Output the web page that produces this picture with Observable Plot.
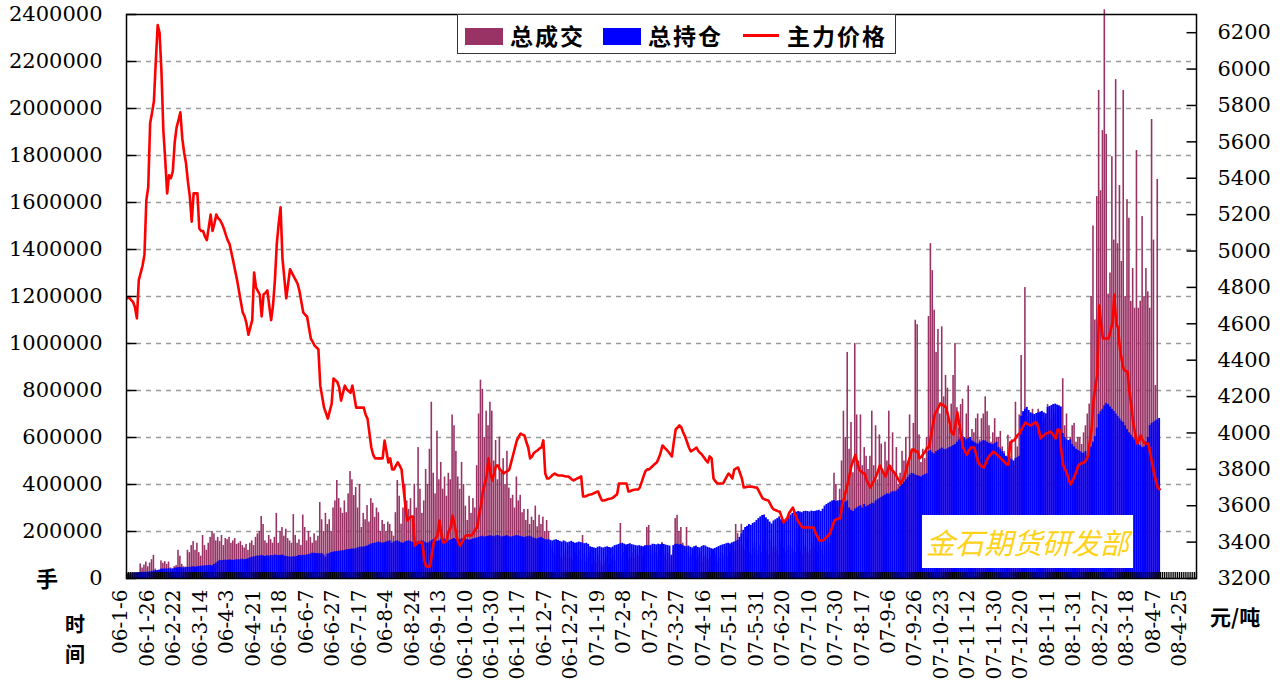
<!DOCTYPE html>
<html><head><meta charset="utf-8">
<script src="https://cdn.jsdelivr.net/npm/d3@7"></script>
<script src="https://cdn.jsdelivr.net/npm/@observablehq/plot@0.6"></script>
<style>
body{margin:0;background:#fff;}
#wrap{position:relative;width:1281px;height:687px;overflow:hidden;background:#fff;}
.cj{position:absolute;font-family:"Noto Sans CJK SC";color:#000;white-space:nowrap;line-height:1;}
#legend{position:absolute;left:457px;top:14px;width:437px;height:38px;border:1.5px solid #333;background:#fff;}
#legend .sw{position:absolute;top:13px;width:38px;height:17px;}
#legend .tx{position:absolute;top:0;line-height:40px;font-size:23px;font-weight:700;letter-spacing:2px;font-family:"Noto Sans CJK SC";}
#wm{position:absolute;left:922px;top:515px;width:211px;height:53px;background:#fff;text-align:center;line-height:53px;
 font-family:"Noto Sans CJK SC";font-size:29px;font-style:italic;color:#ffd21a;}
</style></head><body><div id="wrap"></div>
<script>
// ---- tick labels / categories ----
const xLabels = ["06-1-6","06-1-26","06-2-22","06-3-14","06-4-3","06-4-21","06-5-18","06-6-7","06-6-27","06-7-17","06-8-4","06-8-24","06-9-13","06-10-10","06-10-30","06-11-17","06-12-7","06-12-27","07-1-19","07-2-8","07-3-7","07-3-27","07-4-16","07-5-11","07-5-31","07-6-20","07-7-10","07-7-30","07-8-17","07-9-6","07-9-26","07-10-23","07-11-12","07-11-30","07-12-20","08-1-11","08-1-31","08-2-27","08-3-18","08-4-7","08-4-25"];
const labelStep = 14;      // trading days between labels
const slotCount = 566;     // category slots on the x axis
const leftTicks = [0,200000,400000,600000,800000,1000000,1200000,1400000,1600000,1800000,2000000,2200000,2400000];
const rightTicks = [3200,3400,3600,3800,4000,4200,4400,4600,4800,5000,5200,5400,5600,5800,6000,6200];
const rightDomain = [3200, 6300];

// ---- series: 总成交 (daily volume) ----
const volume = [
15000,18000,12000,20000,16000,14000,18000,62000,45000,57000,70000,50000,66000,80000,
98000,40000,30000,28000,75000,65000,72000,60000,70000,45000,35000,50000,55000,120000,
95000,60000,50000,48000,120000,110000,140000,157000,120000,150000,110000,95000,183000,140000,
120000,150000,175000,200000,190000,160000,175000,157000,183000,140000,170000,165000,175000,150000,
160000,170000,145000,150000,157000,140000,130000,145000,120000,150000,160000,140000,175000,190000,
200000,264000,230000,160000,150000,183000,165000,150000,175000,277000,150000,200000,217000,180000,
210000,170000,160000,150000,272000,183000,150000,165000,140000,270000,217000,160000,200000,175000,
150000,190000,160000,180000,323000,250000,200000,277000,230000,250000,200000,300000,330000,417000,
340000,300000,277000,330000,280000,360000,455000,420000,353000,387000,300000,400000,217000,277000,
250000,310000,240000,340000,320000,260000,300000,280000,200000,247000,230000,200000,240000,230000,
200000,180000,280000,417000,350000,231000,300000,401000,330000,294000,340000,250000,401000,300000,
557000,380000,277000,330000,464000,400000,550000,750000,448000,360000,627000,420000,494000,380000,
432000,350000,448000,420000,696000,650000,541000,432000,380000,494000,400000,308000,247000,350000,
277000,340000,300000,480000,700000,844000,805000,600000,712000,650000,750000,712000,500000,587000,
420000,602000,450000,510000,400000,541000,385000,340000,354000,300000,432000,330000,354000,280000,
294000,247000,294000,230000,261000,247000,308000,220000,269000,230000,261000,200000,247000,199000,
150000,130000,110000,100000,140000,90000,80000,100000,120000,85000,140000,90000,75000,110000,
95000,120000,80000,183000,100000,70000,90000,110000,60000,80000,65000,100000,75000,60000,
55000,70000,90000,60000,80000,100000,75000,120000,140000,234000,90000,110000,130000,80000,
90000,110000,85000,120000,100000,95000,130000,100000,140000,217000,226000,120000,100000,130000,
110000,90000,120000,153000,100000,80000,110000,90000,70000,120000,255000,269000,200000,217000,
150000,130000,217000,110000,90000,100000,120000,80000,95000,110000,70000,90000,100000,85000,
80000,95000,120000,100000,70000,90000,110000,80000,100000,130000,90000,110000,140000,120000,
230000,191000,160000,231000,140000,120000,170000,110000,100000,130000,150000,120000,100000,140000,
110000,150000,120000,100000,160000,130000,110000,140000,120000,100000,150000,130000,110000,120000,
140000,100000,130000,120000,110000,150000,120000,100000,140000,130000,110000,100000,120000,150000,
130000,110000,140000,120000,100000,160000,130000,200000,150000,180000,448000,400000,300000,380000,
500000,712000,600000,962000,550000,664000,450000,1000000,696000,500000,696000,480000,557000,520000,
464000,520000,712000,480000,650000,420000,611000,572000,450000,580000,500000,712000,480000,620000,
450000,557000,400000,448000,541000,500000,600000,480000,696000,540000,660000,1099000,1080000,611000,
494000,550000,510000,600000,1115000,1425000,1310000,1142000,962000,1060000,700000,1071000,773000,864000,
810000,650000,742000,864000,1000000,727000,640000,740000,763000,600000,700000,819000,580000,634000,
620000,680000,700000,590000,680000,700000,773000,710000,650000,580000,620000,680000,600000,600000,
626000,560000,540000,500000,610000,520000,590000,480000,750000,560000,696000,949000,700000,1238000,
690000,650000,700000,720000,690000,650000,720000,700000,660000,680000,700000,740000,720000,680000,
740000,700000,640000,600000,620000,850000,650000,700000,560000,600000,650000,660000,580000,600000,
600000,570000,620000,650000,700000,742000,1200000,1500000,1100000,1625000,2077000,1650000,1906000,2420000,
1890000,1210000,1300000,1795000,1440000,2123000,1425000,1672000,1349000,2077000,1200000,1612000,1533000,1179000,
1319000,1150000,1821000,1150000,1180000,1540000,1200000,1319000,1220000,1150000,1953000,1440000,821000,1698000,
660000
];

// ---- series: 总持仓 (open interest) ----
const openInterest = [
22000,22000,23000,23000,24000,24000,25000,25000,26000,26000,27000,27000,28000,30000,
32000,34000,34000,36000,40000,40000,41000,40000,42000,40000,41000,43000,45000,46000,
47000,46000,45000,46000,48000,47000,49000,50000,48000,50000,51000,52000,53000,54000,
54000,55000,56000,54000,60000,65000,72000,77000,76000,77000,78000,77000,79000,78000,
77000,78000,80000,79000,80000,82000,80000,81000,84000,88000,90000,92000,94000,96000,
95000,98000,96000,94000,97000,95000,98000,96000,100000,99000,97000,98000,100000,96000,
94000,92000,92000,90000,93000,92000,94000,98000,97000,99000,98000,100000,102000,104000,
108000,107000,106000,106000,105000,106000,100000,91000,104000,106000,110000,112000,114000,115000,
116000,117000,118000,119000,122000,123000,124000,126000,125000,127000,130000,133000,133000,134000,
135000,138000,142000,146000,149000,150000,152000,155000,153000,150000,152000,155000,158000,160000,
150000,155000,158000,160000,156000,152000,150000,155000,158000,160000,157000,153000,150000,152000,
155000,158000,160000,156000,152000,150000,155000,160000,165000,162000,158000,160000,165000,168000,
165000,162000,160000,163000,167000,170000,166000,162000,165000,168000,170000,168000,165000,163000,
165000,168000,170000,172000,175000,178000,180000,176000,178000,180000,182000,180000,178000,181000,
183000,180000,177000,178000,180000,182000,178000,176000,178000,180000,183000,181000,179000,177000,
175000,177000,178000,180000,176000,172000,170000,168000,172000,175000,170000,166000,164000,165000,
162000,160000,163000,165000,162000,158000,155000,160000,156000,152000,155000,158000,154000,150000,
152000,155000,153000,150000,148000,150000,145000,135000,132000,130000,128000,133000,135000,131000,
130000,133000,135000,132000,130000,134000,140000,142000,145000,148000,150000,146000,143000,145000,
148000,144000,142000,140000,138000,140000,137000,135000,138000,140000,139000,141000,146000,145000,
143000,146000,144000,147000,145000,142000,140000,138000,99000,140000,145000,146000,143000,145000,
140000,137000,135000,138000,133000,130000,135000,138000,132000,130000,136000,140000,138000,133000,
130000,127000,125000,128000,132000,136000,140000,143000,145000,148000,150000,147000,152000,155000,
158000,162000,175000,190000,205000,217000,222000,230000,226000,234000,238000,247000,255000,262000,
268000,270000,258000,250000,240000,232000,245000,250000,255000,262000,250000,240000,245000,255000,
262000,270000,277000,280000,282000,285000,283000,280000,285000,286000,285000,283000,287000,285000,
286000,288000,290000,285000,295000,308000,315000,320000,325000,330000,332000,328000,330000,332000,
330000,328000,325000,330000,300000,290000,285000,295000,300000,305000,310000,300000,315000,305000,
310000,315000,320000,318000,330000,335000,340000,345000,350000,355000,360000,358000,365000,370000,
368000,372000,380000,390000,400000,410000,420000,430000,440000,447000,445000,440000,438000,435000,
432000,438000,442000,445000,540000,545000,535000,530000,540000,545000,550000,555000,550000,548000,
552000,557000,560000,565000,570000,580000,590000,600000,604000,598000,590000,595000,600000,585000,
580000,575000,570000,578000,582000,587000,585000,580000,575000,572000,570000,575000,580000,557000,
550000,540000,530000,520000,515000,510000,505000,500000,510000,515000,520000,690000,710000,720000,
728000,715000,705000,700000,698000,702000,705000,708000,711000,705000,700000,728000,732000,736000,
740000,742000,738000,735000,730000,617000,600000,590000,587000,590000,570000,560000,550000,545000,
540000,535000,532000,540000,523000,540000,560000,580000,604000,640000,698000,710000,720000,735000,
745000,740000,730000,720000,711000,700000,690000,680000,670000,664000,650000,634000,620000,610000,
600000,590000,580000,570000,565000,557000,560000,580000,600000,651000,660000,665000,670000,675000,
681000
];

// ---- series: 主力价格 (main contract price, 元/吨) ----
const price = [
4740,4745,4730,4720,4690,4630,4840,4880,4920,4980,5280,5352,5702,5760,
5823,6043,6242,6200,5982,5661,5500,5317,5416,5400,5440,5597,5680,5719,
5762,5620,5540,5481,5380,5299,5161,5317,5317,5317,5124,5110,5110,5080,
5060,5130,5200,5110,5150,5200,5180,5170,5150,5124,5090,5060,5039,4990,
4943,4890,4840,4780,4720,4662,4640,4600,4540,4580,4620,4882,4800,4780,
4761,4640,4761,4770,4783,4700,4620,4700,4840,5039,5150,5240,4960,4850,
4740,4820,4900,4880,4860,4840,4820,4780,4720,4662,4650,4640,4580,4519,
4500,4480,4470,4460,4260,4200,4139,4110,4079,4120,4159,4299,4290,4280,
4250,4178,4220,4260,4240,4230,4220,4260,4200,4139,4139,4139,4139,4139,
4100,4079,3999,3920,3879,3860,3860,3860,3860,3860,3958,3900,3838,3860,
3800,3799,3820,3838,3820,3799,3700,3600,3519,3530,3540,3540,3381,3390,
3400,3398,3398,3300,3266,3266,3266,3330,3398,3420,3437,3519,3450,3400,
3398,3420,3460,3480,3546,3500,3437,3400,3381,3400,3420,3437,3437,3437,
3437,3450,3470,3480,3550,3600,3678,3720,3760,3860,3780,3739,3780,3821,
3821,3800,3790,3777,3785,3790,3799,3840,3879,3920,3959,3980,3997,3990,
3986,3950,3920,3860,3870,3890,3898,3905,3915,3920,3959,3777,3750,3750,
3760,3770,3777,3770,3766,3766,3766,3763,3761,3761,3755,3745,3739,3745,
3750,3755,3761,3651,3651,3655,3660,3662,3665,3670,3675,3678,3650,3629,
3629,3632,3635,3638,3640,3645,3655,3662,3722,3722,3722,3722,3722,3678,
3680,3685,3688,3689,3689,3700,3730,3761,3790,3800,3800,3810,3820,3830,
3838,3860,3890,3931,3920,3910,3898,3885,3871,3950,4019,4030,4041,4030,
4002,3980,3950,3920,3898,3905,3912,3920,3900,3890,3879,3865,3850,3838,
3871,3860,3750,3735,3722,3722,3722,3722,3740,3760,3777,3765,3750,3799,
3805,3810,3780,3750,3700,3702,3704,3705,3705,3703,3701,3700,3680,3660,
3640,3635,3632,3629,3610,3590,3579,3575,3570,3568,3540,3508,3520,3530,
3560,3575,3590,3560,3530,3510,3495,3480,3480,3480,3480,3480,3480,3480,
3450,3430,3409,3409,3409,3420,3430,3437,3460,3490,3519,3525,3530,3530,
3600,3640,3680,3722,3770,3821,3850,3879,3840,3799,3790,3780,3777,3740,
3720,3700,3720,3740,3761,3790,3821,3800,3780,3761,3790,3821,3800,3790,
3777,3760,3740,3722,3740,3761,3800,3838,3870,3909,3909,3898,3898,3860,
3870,3885,3898,3920,3920,3980,4041,4101,4120,4140,4162,4155,4150,4140,
4101,4050,4000,3992,4050,4113,4050,3981,3920,3900,3879,3900,3920,3920,
3920,3880,3838,3825,3815,3810,3835,3860,3875,3885,3898,3890,3880,3870,
3860,3850,3840,3827,3827,3948,3955,3959,3975,3990,3997,4020,4040,4057,
4050,4045,4041,4050,4057,4057,4020,3970,3980,3990,3997,4000,4008,4000,
3985,3970,4019,4019,3900,3821,3800,3777,3740,3717,3740,3761,3790,3821,
3830,3835,3838,3850,3871,3950,4019,4178,4250,4319,4700,4600,4519,4519,
4519,4519,4560,4602,4761,4600,4580,4459,4400,4349,4340,4338,4228,4150,
4057,4000,3942,3960,3986,3960,3942,3942,3942,3890,3838,3780,3739,3700,
3690
];

// ---- chart ----
const leftMax = leftTicks[leftTicks.length - 1];
const toLeft = p => (p - rightDomain[0]) / (rightDomain[1] - rightDomain[0]) * leftMax;
const fromLeft = v => rightDomain[0] + v / leftMax * (rightDomain[1] - rightDomain[0]);
const n = Math.min(volume.length, openInterest.length, price.length);
const idx = d3.range(n);
const stripHeight = leftMax * 6 / 564;

const chart = Plot.plot({
  width: 1281, height: 687,
  marginLeft: 126, marginRight: 85, marginTop: 14, marginBottom: 109,
  style: {fontFamily: "DejaVu Serif", fontSize: "21px", color: "#000", background: "#fff", overflow: "visible"},
  x: {type: "linear", domain: [-0.5, slotCount - 0.5], axis: null},
  y: {domain: [0, leftMax], axis: null},
  marks: [
    Plot.ruleY(leftTicks.slice(1, -1), {stroke: "#9a9a9a", strokeWidth: 1.4, strokeDasharray: "5,5"}),
    Plot.rect(idx, {x1: i => i - 0.5, x2: i => i + 0.5, y1: 0, y2: i => volume[i], fill: "#993366", insetLeft: 0.15, insetRight: 0.15}),
    Plot.rect(idx, {x1: i => i - 0.5, x2: i => i + 0.5, y1: 0, y2: i => openInterest[i], fill: "#0000ff"}),
    Plot.ruleX(d3.range(slotCount + 1), {x: i => i - 0.5, y1: 0, y2: stripHeight, stroke: "#000", strokeWidth: 1.2}),
    Plot.line(idx, {x: i => i, y: i => toLeft(price[i]), stroke: "#ff0000", strokeWidth: 2.6}),
    Plot.ruleY(leftTicks, {x1: -0.5, x2: 5, stroke: "#000", strokeWidth: 1.5}),
    Plot.ruleY(rightTicks.map(toLeft), {x1: slotCount - 5.5, x2: slotCount - 0.5, stroke: "#000", strokeWidth: 1.5}),
    Plot.axisY({anchor: "left", ticks: leftTicks, tickSize: 0, tickPadding: 24, tickFormat: d3.format("d"), fontSize: 21, fontFamily: "DejaVu Serif"}),
    Plot.axisY(rightTicks.map(toLeft), {anchor: "right", tickSize: 0, tickPadding: 21, tickFormat: v => String(Math.round(fromLeft(v))), fontSize: 21, fontFamily: "DejaVu Serif"}),
    Plot.text(xLabels, {x: (d, i) => i * labelStep, frameAnchor: "bottom", rotate: -90, textAnchor: "end", dy: 11, fontSize: 20, fontFamily: "DejaVu Serif", fill: "#000"}),
    Plot.frame({stroke: "#000", strokeWidth: 1.5})
  ]
});

const wrap = document.getElementById("wrap");
wrap.appendChild(chart);

function addText(txt, left, top, size, extra) {
  const d = document.createElement("div");
  d.className = "cj";
  d.textContent = txt;
  d.style.left = left + "px"; d.style.top = top + "px"; d.style.fontSize = size + "px";
  d.style.fontWeight = "700";
  if (extra) Object.assign(d.style, extra);
  wrap.appendChild(d);
  return d;
}
addText("手", 36, 566, 22);
addText("时", 65, 614, 20);
addText("间", 65, 644, 20);
addText("元/吨", 1210, 606, 21);

// watermark
const wm = document.createElement("div");
wm.id = "wm"; wm.textContent = "金石期货研发部";
wrap.appendChild(wm);

// legend
const lg = document.createElement("div");
lg.id = "legend";
const items = [
  {type: "sw", color: "#993366", sx: 7, label: "总成交", tx: 52},
  {type: "sw", color: "#0000ff", sx: 145, label: "总持仓", tx: 190},
  {type: "ln", color: "#ff0000", sx: 285, label: "主力价格", tx: 329}
];
for (const it of items) {
  const s = document.createElement("div");
  if (it.type === "sw") {
    s.className = "sw"; s.style.left = it.sx + "px"; s.style.background = it.color;
  } else {
    s.style.cssText = `position:absolute;left:${it.sx}px;top:19px;width:36px;height:3px;background:${it.color};`;
  }
  lg.appendChild(s);
  const t = document.createElement("div");
  t.className = "tx"; t.style.left = it.tx + "px"; t.textContent = it.label;
  lg.appendChild(t);
}
wrap.appendChild(lg);
</script></body></html>
